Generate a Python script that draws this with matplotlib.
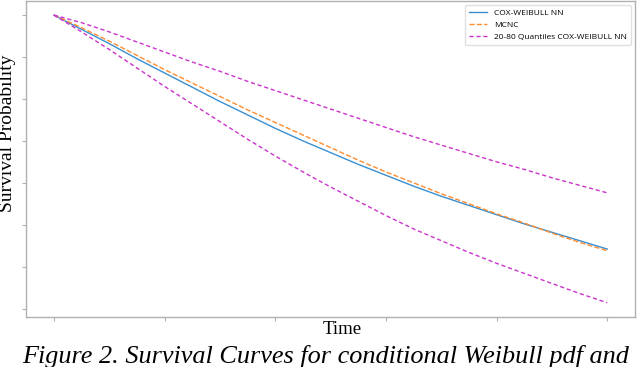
import matplotlib
matplotlib.use("Agg")
import matplotlib.pyplot as plt

# survival curves
time = [0, 2.5, 5, 7.5, 10, 12.5, 15, 17.5, 20, 22.5, 25,
        27.5, 30, 32.5, 35, 37.5, 40, 42.5, 45, 47.5, 50]
cox_weibull_nn = [1.0, 0.983, 0.966, 0.948, 0.931, 0.914, 0.897, 0.881, 0.865, 0.850, 0.836,
                  0.822, 0.809, 0.796, 0.784, 0.773, 0.762, 0.751, 0.741, 0.731, 0.721]
mcmc = [1.0, 0.985, 0.969, 0.952, 0.935, 0.919, 0.903, 0.887, 0.872, 0.857, 0.842,
        0.827, 0.813, 0.800, 0.787, 0.775, 0.763, 0.752, 0.740, 0.729, 0.719]
q80 = [1.0, 0.991, 0.980, 0.968, 0.956, 0.944, 0.933, 0.921, 0.910, 0.899, 0.888,
       0.877, 0.866, 0.855, 0.845, 0.835, 0.825, 0.816, 0.806, 0.797, 0.788]
q20 = [1.0, 0.980, 0.959, 0.937, 0.915, 0.894, 0.873, 0.852, 0.832, 0.813, 0.795,
       0.778, 0.761, 0.745, 0.731, 0.717, 0.704, 0.692, 0.680, 0.668, 0.657]

fig = plt.figure(figsize=(6.4, 3.67), dpi=100)
ax = fig.add_axes([0.041, 0.136, 0.951, 0.862])

ax.plot(time, cox_weibull_nn, color="#3a8fd0", lw=1.0, label="COX-WEIBULL NN")
ax.plot(time, mcmc, color="#ff8c2e", lw=1.0, ls="--", label="MCNC")
ax.plot(time, q80, color="#cc33cc", lw=1.0, ls="--", dashes=(3, 2),
        label="20-80 Quantiles COX-WEIBULL NN")
ax.plot(time, q20, color="#cc33cc", lw=1.0, ls="--", dashes=(3, 2))

ax.set_xticks(time[::4])
ax.set_yticks([1.0, 0.95, 0.9, 0.85, 0.8, 0.75, 0.7, 0.65])
ax.set_xticklabels([])
ax.set_yticklabels([])
ax.tick_params(colors="#b0b0b0", length=3, width=0.8)
for s in ax.spines.values():
    s.set_color("#b0b0b0")
    s.set_linewidth(1.0)

fig.text(8 / 640, 1 - 133 / 367, "Survival Probability", family="Liberation Serif",
         fontsize=14, rotation=90, ha="center", va="center")
fig.text(342 / 640, 1 - 329 / 367, "Time", family="Liberation Serif",
         fontsize=13.5, ha="center", va="center")

leg = ax.legend(loc="upper right", prop={"family": "Open Sans", "size": 6}, framealpha=1,
                edgecolor="#e0e0e0", handlelength=2.2, borderpad=0.5)

fig.text(326 / 640, 0.012, "Figure 2. Survival Curves for conditional Weibull pdf and",
         family="Liberation Serif", style="italic", fontsize=18.9, ha="center", va="baseline")

fig.savefig("out.png", dpi=100)
